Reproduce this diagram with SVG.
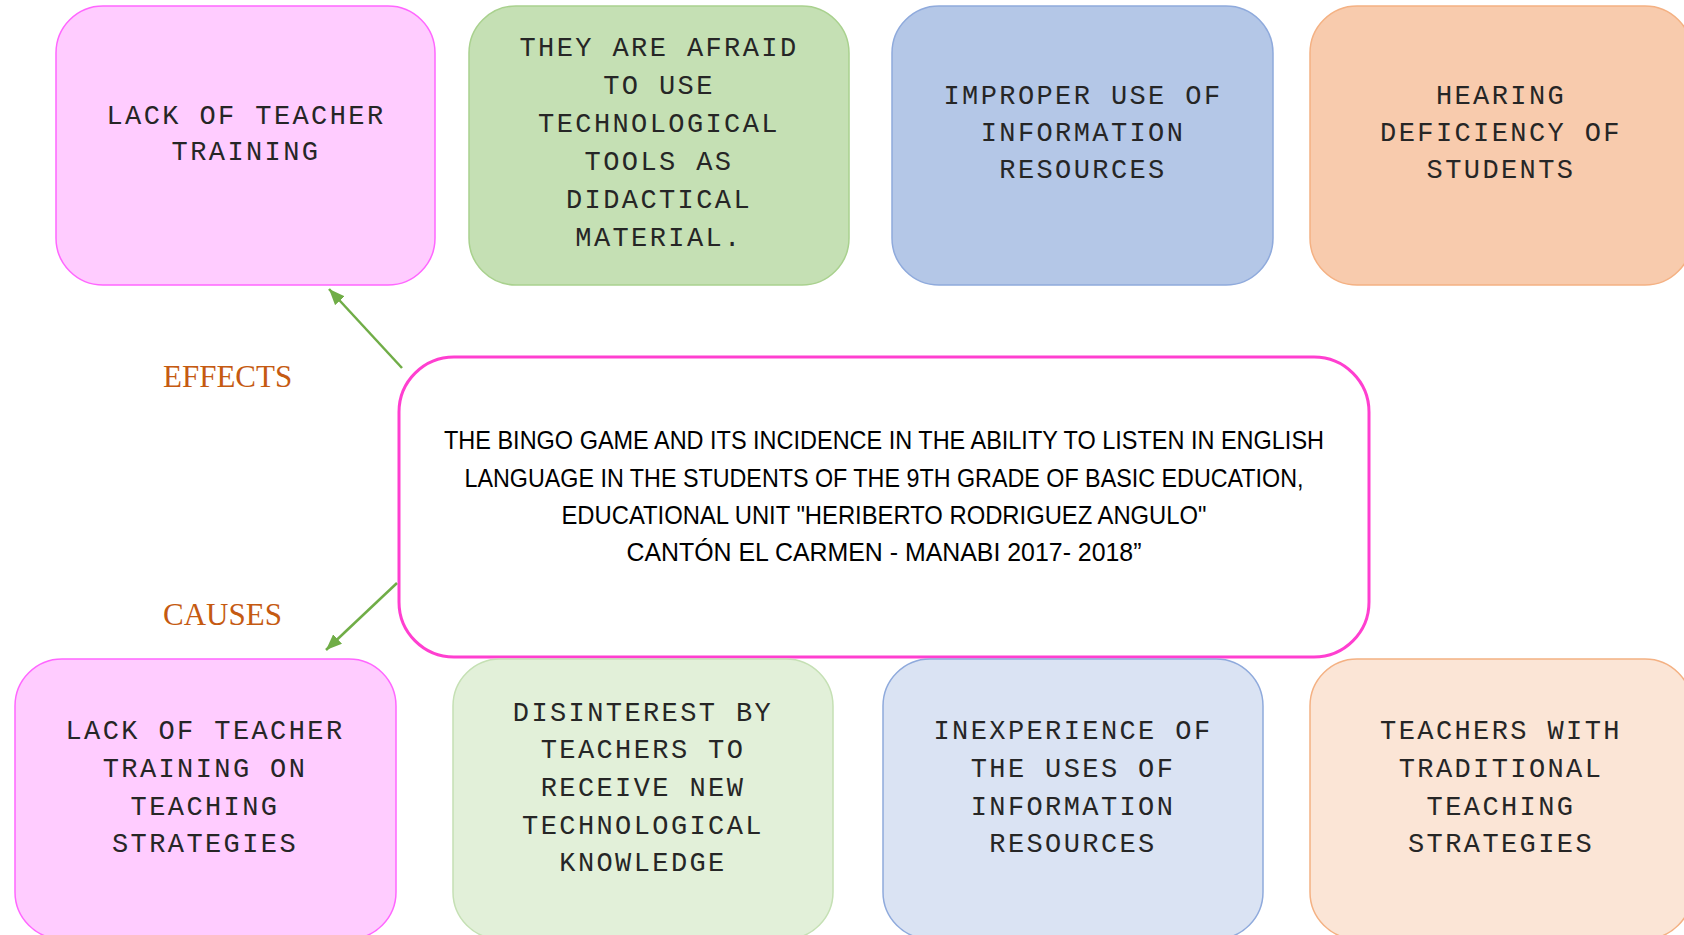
<svg xmlns="http://www.w3.org/2000/svg" width="1684" height="935" viewBox="0 0 1684 935">
<style>
.box{stroke-width:1.5}
.mono{font-family:"Liberation Mono","Courier New",monospace;font-size:27px;letter-spacing:2.4px;fill:#262626;text-anchor:middle}
.center{font-family:"Liberation Sans",Arial,sans-serif;font-size:25px;fill:#000;text-anchor:middle}
.lbl{font-family:"Liberation Serif","Times New Roman",serif;font-size:31px;fill:#C55A11}
.pink{fill:#FFCCFF;stroke:#FF66FF}
.green1{fill:#C5E0B4;stroke:#A9D18E}
.blue1{fill:#B4C7E7;stroke:#8FAADC}
.orange1{fill:#F8CBAD;stroke:#F4B183}
.green2{fill:#E2F0D9;stroke:#C5E0B4}
.blue2{fill:#DAE3F3;stroke:#8FAADC}
.orange2{fill:#FBE5D6;stroke:#F4B183}
.conn{stroke:#70AD47;stroke-width:2.5;fill:none}
</style>
<defs>
<marker id="ah" viewBox="0 0 16 13" refX="16" refY="6.5" markerWidth="16" markerHeight="13" markerUnits="userSpaceOnUse" orient="auto">
<path d="M0,0 L16,6.5 L0,13 z" fill="#70AD47"/>
</marker>
</defs>
<rect width="1684" height="935" fill="#fff"/>

<g id="effect1">
<rect class="box pink" x="56" y="6" width="379" height="279" rx="47"/>
<text class="mono" x="246" y="124">LACK OF TEACHER</text>
<text class="mono" x="246" y="160">TRAINING</text>
</g>
<g id="effect2">
<rect class="box green1" x="469" y="6" width="380" height="279" rx="47"/>
<text class="mono" x="659" y="56">THEY ARE AFRAID</text>
<text class="mono" x="659" y="94">TO USE</text>
<text class="mono" x="659" y="132">TECHNOLOGICAL</text>
<text class="mono" x="659" y="170">TOOLS AS</text>
<text class="mono" x="659" y="208">DIDACTICAL</text>
<text class="mono" x="659" y="246">MATERIAL.</text>
</g>
<g id="effect3">
<rect class="box blue1" x="892" y="6" width="381" height="279" rx="47"/>
<text class="mono" x="1083" y="104">IMPROPER USE OF</text>
<text class="mono" x="1083" y="141">INFORMATION</text>
<text class="mono" x="1083" y="178">RESOURCES</text>
</g>
<g id="effect4">
<rect class="box orange1" x="1310" y="6" width="382" height="279" rx="47"/>
<text class="mono" x="1501" y="104">HEARING</text>
<text class="mono" x="1501" y="141">DEFICIENCY OF</text>
<text class="mono" x="1501" y="178">STUDENTS</text>
</g>

<g id="center">
<rect x="399" y="357" width="970" height="300" rx="55" fill="#fff" stroke="#FF3FD0" stroke-width="3"/>
<text class="center" x="884" y="449" textLength="880" lengthAdjust="spacingAndGlyphs">THE BINGO GAME AND ITS INCIDENCE IN THE ABILITY TO LISTEN IN ENGLISH</text>
<text class="center" x="884" y="487" textLength="839" lengthAdjust="spacingAndGlyphs">LANGUAGE IN THE STUDENTS OF THE 9TH GRADE OF BASIC EDUCATION,</text>
<text class="center" x="884" y="524" textLength="645" lengthAdjust="spacingAndGlyphs">EDUCATIONAL UNIT "HERIBERTO RODRIGUEZ ANGULO"</text>
<text class="center" x="884" y="561" textLength="515" lengthAdjust="spacingAndGlyphs">CANTÓN EL CARMEN - MANABI 2017- 2018”</text>
</g>

<g id="label-effects"><text class="lbl" x="163" y="387">EFFECTS</text></g>
<g id="label-causes"><text class="lbl" x="163" y="625">CAUSES</text></g>

<g id="cause1">
<rect class="box pink" x="15" y="659" width="381" height="280" rx="47"/>
<text class="mono" x="205" y="739">LACK OF TEACHER</text>
<text class="mono" x="205" y="777">TRAINING ON</text>
<text class="mono" x="205" y="815">TEACHING</text>
<text class="mono" x="205" y="852">STRATEGIES</text>
</g>
<g id="cause2">
<rect class="box green2" x="453" y="659" width="380" height="280" rx="47"/>
<text class="mono" x="643" y="721">DISINTEREST BY</text>
<text class="mono" x="643" y="758">TEACHERS TO</text>
<text class="mono" x="643" y="796">RECEIVE NEW</text>
<text class="mono" x="643" y="834">TECHNOLOGICAL</text>
<text class="mono" x="643" y="871">KNOWLEDGE</text>
</g>
<g id="cause3">
<rect class="box blue2" x="883" y="659" width="380" height="280" rx="47"/>
<text class="mono" x="1073" y="739">INEXPERIENCE OF</text>
<text class="mono" x="1073" y="777">THE USES OF</text>
<text class="mono" x="1073" y="815">INFORMATION</text>
<text class="mono" x="1073" y="852">RESOURCES</text>
</g>
<g id="cause4">
<rect class="box orange2" x="1310" y="659" width="382" height="280" rx="47"/>
<text class="mono" x="1501" y="739">TEACHERS WITH</text>
<text class="mono" x="1501" y="777">TRADITIONAL</text>
<text class="mono" x="1501" y="815">TEACHING</text>
<text class="mono" x="1501" y="852">STRATEGIES</text>
</g>

<g id="connectors">
<line class="conn" x1="402" y1="368" x2="329" y2="289" marker-end="url(#ah)"/>
<line class="conn" x1="397" y1="583" x2="326" y2="650" marker-end="url(#ah)"/>
</g>
</svg>
